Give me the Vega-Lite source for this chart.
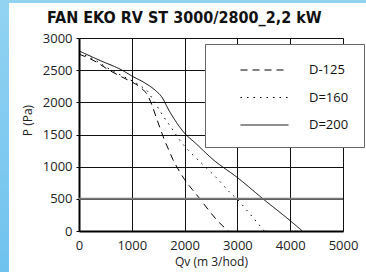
{
  "$schema": "https://vega.github.io/schema/vega-lite/v6.json",
  "autosize": {"type": "none"},
  "padding": {"left": 79, "top": 38, "right": 23, "bottom": 41},
  "width": 264,
  "height": 193,
  "background": "white",
  "config": {
    "view": {"stroke": null},
    "font": "Open Sans",
    "axisX": {"format": "d", "labelFlush": false, "labelOverlap": false, "titleFont": "Open Sans", "titleFontSize": 12, "titleFontWeight": "normal", "titleColor": "#222", "titlePadding": 4, "labelFont": "Open Sans", "labelFontSize": 13, "labelColor": "#222", "labelPadding": 8, "ticks": false, "domainColor": "black", "domainWidth": 2, "grid": true, "gridColor": "#111", "gridWidth": 1, "gridOpacity": 1},
    "axisY": {"format": "d", "labelFlush": false, "labelOverlap": false, "titleFont": "Open Sans", "titleFontSize": 12, "titleFontWeight": "normal", "titleColor": "#222", "titlePadding": 8, "titleY": 82, "labelFont": "Open Sans", "labelFontSize": 13, "labelColor": "#222", "labelPadding": 4, "tickSize": 3, "tickColor": "black", "domainColor": "black", "domainWidth": 2, "grid": true, "gridColor": "#111", "gridWidth": 1, "gridOpacity": 1}
  },
  "title": {"text": "FAN EKO RV ST 3000/2800_2,2 kW", "anchor": "start", "frame": "group", "dx": -32, "dy": 32, "font": "Liberation Sans Narrow, DejaVu Sans Condensed", "fontSize": 16, "fontWeight": "bold", "color": "#111", "offset": 5},
  "layer": [
    {
      "data": {"values": [
        {"Q": 0, "P": 2750, "D": "D-125"}, {"Q": 300, "P": 2640, "D": "D-125"}, {"Q": 550, "P": 2510, "D": "D-125"}, {"Q": 870, "P": 2370, "D": "D-125"}, {"Q": 1060, "P": 2290, "D": "D-125"}, {"Q": 1210, "P": 2200, "D": "D-125"}, {"Q": 1300, "P": 2110, "D": "D-125"}, {"Q": 1380, "P": 1960, "D": "D-125"}, {"Q": 1440, "P": 1820, "D": "D-125"}, {"Q": 1500, "P": 1680, "D": "D-125"}, {"Q": 1570, "P": 1520, "D": "D-125"}, {"Q": 1630, "P": 1390, "D": "D-125"}, {"Q": 1700, "P": 1260, "D": "D-125"}, {"Q": 1780, "P": 1110, "D": "D-125"}, {"Q": 1900, "P": 930, "D": "D-125"}, {"Q": 2000, "P": 800, "D": "D-125"}, {"Q": 2150, "P": 640, "D": "D-125"}, {"Q": 2290, "P": 500, "D": "D-125"}, {"Q": 2450, "P": 330, "D": "D-125"}, {"Q": 2610, "P": 170, "D": "D-125"}, {"Q": 2830, "P": 0, "D": "D-125"},
        {"Q": 0, "P": 2770, "D": "D=160"}, {"Q": 300, "P": 2660, "D": "D=160"}, {"Q": 550, "P": 2530, "D": "D=160"}, {"Q": 870, "P": 2390, "D": "D=160"}, {"Q": 1060, "P": 2310, "D": "D=160"}, {"Q": 1210, "P": 2230, "D": "D=160"}, {"Q": 1310, "P": 2160, "D": "D=160"}, {"Q": 1400, "P": 2040, "D": "D=160"}, {"Q": 1500, "P": 1910, "D": "D=160"}, {"Q": 1600, "P": 1780, "D": "D=160"}, {"Q": 1720, "P": 1640, "D": "D=160"}, {"Q": 1810, "P": 1530, "D": "D=160"}, {"Q": 1910, "P": 1410, "D": "D=160"}, {"Q": 2100, "P": 1230, "D": "D=160"}, {"Q": 2300, "P": 1070, "D": "D=160"}, {"Q": 2600, "P": 830, "D": "D=160"}, {"Q": 2870, "P": 590, "D": "D=160"}, {"Q": 3000, "P": 490, "D": "D=160"}, {"Q": 3200, "P": 300, "D": "D=160"}, {"Q": 3510, "P": 0, "D": "D=160"},
        {"Q": 0, "P": 2800, "D": "D=200"}, {"Q": 400, "P": 2650, "D": "D=200"}, {"Q": 815, "P": 2500, "D": "D=200"}, {"Q": 1000, "P": 2410, "D": "D=200"}, {"Q": 1250, "P": 2300, "D": "D=200"}, {"Q": 1440, "P": 2190, "D": "D=200"}, {"Q": 1570, "P": 2080, "D": "D=200"}, {"Q": 1700, "P": 1880, "D": "D=200"}, {"Q": 1820, "P": 1720, "D": "D=200"}, {"Q": 2000, "P": 1520, "D": "D=200"}, {"Q": 2200, "P": 1370, "D": "D=200"}, {"Q": 2540, "P": 1110, "D": "D=200"}, {"Q": 3000, "P": 830, "D": "D=200"}, {"Q": 3500, "P": 490, "D": "D=200"}, {"Q": 4000, "P": 160, "D": "D=200"}, {"Q": 4230, "P": 0, "D": "D=200"}
      ]},
      "mark": {"type": "line", "color": "black", "strokeWidth": 1, "interpolate": "monotone"},
      "encoding": {
        "x": {"field": "Q", "type": "quantitative", "scale": {"domain": [0, 5000], "nice": false},
          "axis": {"values": [0, 1000, 2000, 3000, 4000, 5000], "title": "Qv (m 3/hod)"}},
        "y": {"field": "P", "type": "quantitative", "scale": {"domain": [0, 3000], "nice": false},
          "axis": {"values": [0, 500, 1000, 1500, 2000, 2500, 3000], "title": "P (Pa)"}},
        "strokeDash": {"field": "D", "type": "nominal", "scale": {"domain": ["D-125", "D=160", "D=200"], "range": [[7, 5], [1.5, 5], [1, 0]]},
          "legend": {"orient": "none", "legendX": 126, "legendY": 6, "title": " ", "titleFontSize": 2, "titlePadding": 2, "padding": 15,
            "fillColor": "white", "strokeColor": "#666", "symbolType": "stroke", "symbolSize": 2304, "symbolStrokeColor": "black", "symbolStrokeWidth": 1,
            "symbolOffset": 20, "labelOffset": 20, "labelFont": "Open Sans", "labelFontSize": 13, "labelColor": "#111", "clipHeight": 14, "rowPadding": 13.5}}
      }
    },
    {
      "data": {"values": [{}]},
      "mark": {"type": "rule", "color": "#7a7a7a", "strokeWidth": 2},
      "encoding": {"y": {"datum": 500, "type": "quantitative", "axis": {"values": [0, 500, 1000, 1500, 2000, 2500, 3000], "title": "P (Pa)"}}}
    },
    {
      "data": {"values": [{}]},
      "mark": {"type": "rect", "clip": false, "color": {"gradient": "linear", "x1": 0, "y1": 0, "x2": 0, "y2": 1, "stops": [{"offset": 0, "color": "#92d3f2"}, {"offset": 1, "color": "#6fc2ee"}]}},
      "encoding": {
        "x": {"datum": -1520, "type": "quantitative", "axis": {"values": [0, 1000, 2000, 3000, 4000, 5000], "title": "Qv (m 3/hod)"}}, "x2": {"datum": -1326},
        "y": {"datum": 3610, "type": "quantitative", "axis": {"values": [0, 500, 1000, 1500, 2000, 2500, 3000], "title": "P (Pa)"}}, "y2": {"datum": -670}
      }
    },
    {
      "data": {"values": [{}]},
      "mark": {"type": "rect", "clip": false, "color": "#92d3f2"},
      "encoding": {
        "x": {"datum": -1520, "type": "quantitative", "axis": {"values": [0, 1000, 2000, 3000, 4000, 5000], "title": "Qv (m 3/hod)"}}, "x2": {"datum": 5520},
        "y": {"datum": 3610, "type": "quantitative", "axis": {"values": [0, 500, 1000, 1500, 2000, 2500, 3000], "title": "P (Pa)"}}, "y2": {"datum": 3545}
      }
    }
  ]
}
